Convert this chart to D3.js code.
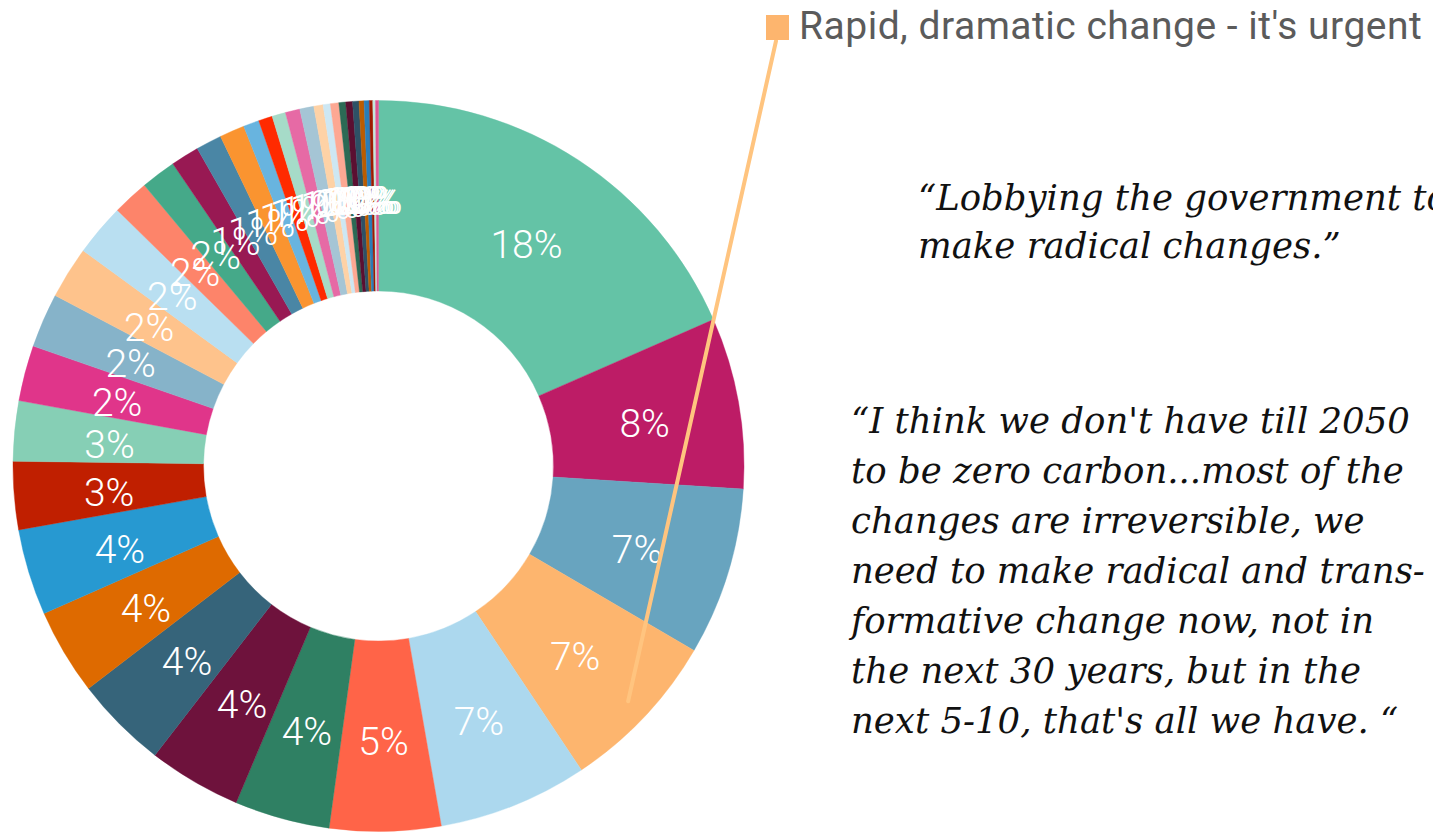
<!DOCTYPE html>
<html><head><meta charset="utf-8">
<script src="https://cdn.jsdelivr.net/npm/d3@7"></script>
<style>html,body{margin:0;padding:0;background:#fff;overflow:hidden}</style>
</head><body>
<svg id="chart" width="1433" height="833"></svg>
<script>
// Share of responses (%), clockwise from 12 o'clock
const values = [18.4, 7.55, 7.4, 7.2, 6.6, 4.9, 4.2, 4.1, 4.1, 3.8, 3.8, 3.0, 2.65, 2.45, 2.4, 2.3, 2.3,
  1.6, 1.55, 1.25, 1.14, 1.1, 0.70, 0.61, 0.60, 0.64, 0.62, 0.41, 0.32, 0.37, 0.30, 0.30, 0.28,
  0.22, 0.23, 0.15, 0.12, 0.13];
const colors = ["#64c3a6","#bd1c66","#68a4bf","#fdb56e","#acd8ee","#ff6448","#2f8063","#6e123c",
  "#36647a","#de6a00","#2799d1","#c01f00","#86cfb5","#e0358a","#86b3c9","#fec38c","#b9dff1",
  "#fd846a","#45a989","#981953","#4a86a5","#fa9430","#68b4df","#ff2a00","#a6dbc8","#e66aa5",
  "#a5c5d5","#fed2a6","#cde7f3","#fda893","#2c6a55","#5b0f31","#2e5166","#bb5c00","#2a7db8",
  "#9f1a00","#c3e8db","#e05594"];
const legendLabels = ["Rapid, dramatic change - it's urgent"];
const legendIndex = [3];
const quote1 = ["\u201CLobbying the government to", "make radical changes.\u201D"];
const quote2 = ["\u201CI think we don't have till 2050", "to be zero carbon...most of the",
  "changes are irreversible, we", "need to make radical and trans-", "formative change now, not in",
  "the next 30 years, but in the", "next 5-10, that's all we have. \u201C"];

const svg = d3.select("#chart");
const cx = 378.5, cy = 466, rOuter = 365.5, rInner = 175;
const total = d3.sum(values);
const pie = d3.pie().sort(null).value(d => d);
const arcs = pie(values);
const arc = d3.arc().innerRadius(rInner).outerRadius(rOuter);

const g = svg.append("g").attr("transform", `translate(${cx},${cy})`);
g.selectAll("path.slice").data(arcs).join("path")
  .attr("class", "slice")
  .attr("d", arc)
  .attr("fill", (d, i) => colors[i])
  .attr("stroke", (d, i) => colors[i])
  .attr("stroke-width", 0.4);

g.selectAll("text.lbl").data(arcs).join("text")
  .attr("class", "lbl")
  .attr("transform", d => `translate(${arc.centroid(d)})`)
  .attr("text-anchor", "middle")
  .attr("dy", "0.47em")
  .attr("fill", "#fff")
  .style("font-family", "Roboto, 'Open Sans', sans-serif")
  .style("font-weight", 300)
  .style("font-size", "39px")
  .text(d => Math.round(d.value / total * 100) + "%");

// legend with leader line to its slice
const lx = 766, ly = 15;
legendLabels.forEach((lab, k) => {
  const a = arcs[legendIndex[k]];
  const mid = (a.startAngle + a.endAngle) / 2;
  const r = 343;
  const px = cx + Math.sin(mid) * r, py = cy - Math.cos(mid) * r;
  svg.append("line")
    .attr("x1", lx + 10).attr("y1", ly + 26)
    .attr("x2", px).attr("y2", py)
    .attr("stroke", "#ffc47f")
    .attr("stroke-width", 4)
    .attr("stroke-linecap", "round");
  svg.append("rect").attr("x", lx).attr("y", ly).attr("width", 23).attr("height", 25)
    .attr("fill", colors[legendIndex[k]]);
  svg.append("text").attr("x", lx + 33).attr("y", ly + 24)
    .attr("fill", "#5b5b5b")
    .style("font-family", "Roboto, 'Open Sans', sans-serif")
    .style("font-size", "39px")
    .style("letter-spacing", "0.5px")
    .text(lab);
});

function quote(lines, x, y0, step) {
  const t = svg.append("text")
    .attr("fill", "#111")
    .style("font-family", "'DejaVu Serif', serif")
    .style("font-style", "italic")
    .style("font-size", "35.5px");
  lines.forEach((l, i) => t.append("tspan").attr("x", x).attr("y", y0 + i * step).text(l));
}
quote(quote1, 918, 210, 48);
quote(quote2, 851, 433, 50);
</script>
</body></html>
